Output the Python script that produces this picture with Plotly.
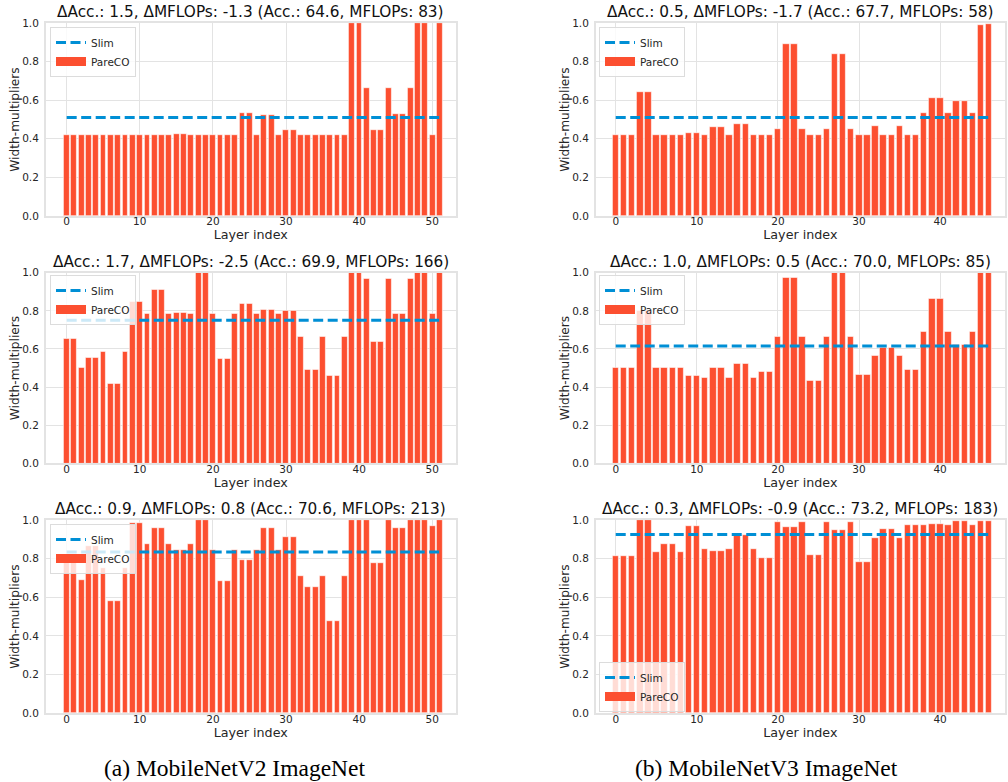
import plotly.graph_objects as go

# ---------------- data ----------------
layers_v2 = list(range(52))
layers_v3 = list(range(47))

titles = [
    "ΔAcc.: 1.5, ΔMFLOPs: -1.3 (Acc.: 64.6, MFLOPs: 83)",
    "ΔAcc.: 0.5, ΔMFLOPs: -1.7 (Acc.: 67.7, MFLOPs: 58)",
    "ΔAcc.: 1.7, ΔMFLOPs: -2.5 (Acc.: 69.9, MFLOPs: 166)",
    "ΔAcc.: 1.0, ΔMFLOPs: 0.5 (Acc.: 70.0, MFLOPs: 85)",
    "ΔAcc.: 0.9, ΔMFLOPs: 0.8 (Acc.: 70.6, MFLOPs: 213)",
    "ΔAcc.: 0.3, ΔMFLOPs: -0.9 (Acc.: 73.2, MFLOPs: 183)",
]

slim_values = [0.51, 0.51, 0.75, 0.615, 0.835, 0.925]

v2_small = [0.42] * 15 + [0.425, 0.425] + [0.42] * 7 + [
    0.535, 0.535, 0.42, 0.525, 0.525, 0.42, 0.445, 0.445,
    0.42, 0.42, 0.42, 0.42, 0.42, 0.42, 0.42,
    1.0, 1.0, 0.665, 0.445, 0.445, 0.665, 0.53, 0.53, 0.665, 1.0, 1.0, 0.42, 1.0]

v2_mid = [0.655, 0.655, 0.50, 0.555, 0.555, 0.585, 0.42, 0.42, 0.585, 0.85,
          0.85, 0.785, 0.91, 0.91, 0.785, 0.79, 0.79, 0.785, 1.0, 1.0,
          0.785, 0.55, 0.55, 0.785, 0.835, 0.835, 0.785, 0.805, 0.805, 0.785,
          0.80, 0.80, 0.665, 0.49, 0.49, 0.665, 0.46, 0.46, 0.665, 1.0,
          1.0, 0.97, 0.64, 0.64, 0.97, 0.785, 0.785, 0.97, 1.0, 1.0,
          0.785, 1.0]

v2_large = [0.81, 0.81, 0.69, 0.865, 0.865, 0.75, 0.58, 0.58, 0.75, 0.985,
            0.985, 0.875, 0.96, 0.96, 0.875, 0.845, 0.845, 0.875, 1.0, 1.0,
            0.845, 0.685, 0.685, 0.845, 0.795, 0.795, 0.845, 0.96, 0.96, 0.845,
            0.91, 0.91, 0.71, 0.655, 0.655, 0.71, 0.48, 0.48, 0.71, 1.0,
            1.0, 1.0, 0.78, 0.78, 1.0, 0.96, 0.96, 1.0, 1.0, 1.0,
            0.97, 1.0]

v3_small = [0.42, 0.42, 0.42, 0.645, 0.645, 0.42, 0.42, 0.42, 0.42, 0.43,
            0.43, 0.42, 0.46, 0.46, 0.42, 0.475, 0.475, 0.42, 0.42, 0.42,
            0.45, 0.89, 0.89, 0.45, 0.42, 0.42, 0.45, 0.84, 0.84, 0.45,
            0.42, 0.42, 0.465, 0.42, 0.42, 0.465, 0.42, 0.42, 0.535, 0.61,
            0.61, 0.535, 0.595, 0.595, 0.535, 0.99, 0.995]

v3_mid = [0.50, 0.50, 0.50, 0.80, 0.80, 0.50, 0.50, 0.50, 0.50, 0.46,
          0.46, 0.45, 0.50, 0.50, 0.45, 0.525, 0.525, 0.45, 0.48, 0.48,
          0.665, 0.975, 0.975, 0.665, 0.435, 0.435, 0.665, 1.0, 1.0, 0.665,
          0.465, 0.465, 0.565, 0.605, 0.605, 0.565, 0.49, 0.49, 0.69, 0.865,
          0.865, 0.69, 0.62, 0.62, 0.69, 1.0, 1.0]

v3_large = [0.815, 0.815, 0.815, 1.0, 1.0, 0.835, 0.875, 0.875, 0.835, 0.97,
            0.97, 0.85, 0.84, 0.84, 0.85, 0.925, 0.925, 0.85, 0.805, 0.805,
            0.99, 0.965, 0.965, 0.99, 0.82, 0.82, 0.99, 0.95, 0.95, 0.99,
            0.785, 0.785, 0.905, 0.955, 0.955, 0.905, 0.975, 0.975, 0.975, 0.98,
            0.98, 0.975, 0.995, 0.995, 0.975, 0.995, 0.995]

pareco_values = [v2_small, v3_small, v2_mid, v3_mid, v2_large, v3_large]
layer_sets = [layers_v2, layers_v3, layers_v2, layers_v3, layers_v2, layers_v3]

y_ticks = [0.0, 0.2, 0.4, 0.6, 0.8, 1.0]
x_ticks = [0, 10, 20, 30, 40, 50]
captions = ["(a) MobileNetV2 ImageNet", "(b) MobileNetV3 ImageNet"]

# ---------------- layout geometry ----------------
W, H = 1008, 782
BAR_COLOR = "#fc4f30"
SLIM_COLOR = "#008fd5"
GRID = "#e3e3e3"
TEXT = "#262626"
FONT = "DejaVu Sans"

col_x = [(45.7 / W, 455.7 / W), (595.7 / W, 1005.0 / W)]
row_y = [(1 - 216 / H, 1 - 23 / H), (1 - 463.3 / H, 1 - 272.7 / H), (1 - 713.3 / H, 1 - 520 / H)]
x_ranges = [[-2.87, 53.2], [-2.47, 48.0]]
legend_pos = [
    (50 / W, 1 - 27 / H, "top"),
    (599 / W, 1 - 27 / H, "top"),
    (50 / W, 1 - 275 / H, "top"),
    (599 / W, 1 - 275 / H, "top"),
    (50 / W, 1 - 524 / H, "top"),
    (599 / W, 1 - 712 / H, "bottom"),
]

fig = go.Figure()
annotations = []

for i in range(6):
    r, c = divmod(i, 2)
    n = i + 1
    xa = "x" if n == 1 else f"x{n}"
    ya = "y" if n == 1 else f"y{n}"
    lg = "legend" if n == 1 else f"legend{n}"
    xs = layer_sets[i]

    fig.add_trace(go.Scatter(
        x=[xs[0], xs[-1]], y=[slim_values[i], slim_values[i]],
        mode="lines", name="Slim",
        line=dict(color=SLIM_COLOR, width=3, dash="10px,4.5px"),
        xaxis=xa, yaxis=ya, legend=lg, legendrank=1, hoverinfo="skip"))
    fig.add_trace(go.Bar(
        x=xs, y=pareco_values[i], name="ParеCO".replace("е", "e"),
        marker=dict(color=BAR_COLOR, line=dict(color="white", width=0.6)),
        width=0.8, xaxis=xa, yaxis=ya, showlegend=False))
    # legend entry for the bars drawn as a wide swatch (matplotlib-style patch)
    fig.add_trace(go.Scatter(
        x=[None], y=[None], mode="lines", name="ParеCO".replace("е", "e"),
        line=dict(color=BAR_COLOR, width=9),
        xaxis=xa, yaxis=ya, legend=lg, legendrank=2, hoverinfo="skip"))

    axis_common = dict(showgrid=True, gridcolor=GRID, gridwidth=1,
                       showline=True, linecolor=GRID, linewidth=1.5, mirror=True,
                       zeroline=False, ticks="", automargin=False,
                       tickfont=dict(family=FONT, size=10.5, color=TEXT))
    fig.layout[("xaxis" if n == 1 else f"xaxis{n}")] = dict(
        domain=list(col_x[c]), anchor=ya, range=x_ranges[c],
        tickvals=x_ticks, ticklabelstandoff=-5,
        title=dict(text="Layer index", font=dict(family=FONT, size=12.7, color=TEXT), standoff=2),
        **axis_common)
    fig.layout[("yaxis" if n == 1 else f"yaxis{n}")] = dict(
        domain=list(row_y[r]), anchor=xa, range=[0, 1.0],
        tickvals=y_ticks, tickformat=".1f", ticklabelstandoff=3,
        title=dict(text="Width-multipliers", font=dict(family=FONT, size=12.2, color=TEXT), standoff=0),
        **axis_common)

    lx, ly, anc = legend_pos[i]
    fig.layout[lg] = dict(
        x=lx, y=ly, xanchor="left", yanchor=anc, xref="paper", yref="paper",
        bgcolor="rgba(255,255,255,0.8)", bordercolor="#dcdcdc", borderwidth=1,
        font=dict(family=FONT, size=10.5, color=TEXT), tracegroupgap=0,
        itemwidth=30)

    annotations.append(dict(
        text=titles[i], x=(col_x[c][0] + col_x[c][1]) / 2, y=row_y[r][1],
        xref="paper", yref="paper", xanchor="center", yanchor="bottom",
        showarrow=False, yshift=0,
        font=dict(family=FONT, size=15.3, color="#111111")))

for k, cap in enumerate(captions):
    annotations.append(dict(
        text=cap, x=[234 / W, 766 / W][k], y=0, xref="paper", yref="paper",
        xanchor="center", yanchor="bottom", showarrow=False, yshift=-1,
        font=dict(family="Liberation Serif", size=23.5, color="#000000")))

fig.update_layout(
    width=W, height=H, margin=dict(l=0, r=0, t=0, b=0, autoexpand=False),
    paper_bgcolor="white", plot_bgcolor="white",
    showlegend=True, bargap=0, annotations=annotations,
    font=dict(family=FONT, color=TEXT))

fig.write_html(
    "out.html",
    config={"displayModeBar": False},
    post_script="document.body.style.margin='0';document.body.style.overflow='hidden';")
